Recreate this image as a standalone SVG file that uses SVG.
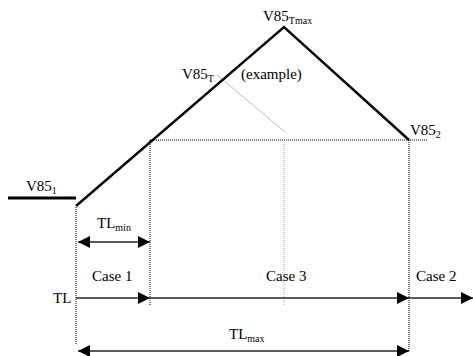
<svg xmlns="http://www.w3.org/2000/svg" width="473" height="356" viewBox="0 0 473 356">
<defs>
<style>
text{font-family:'Liberation Serif',serif;font-size:15px;fill:#000}
.sub{font-size:10px}
.main{stroke:#000;stroke-width:2.4;fill:none}
.dot{stroke:#000;stroke-width:1;stroke-dasharray:1 1;fill:none}
.lite{stroke:#aaa;stroke-width:1;stroke-dasharray:1 1;fill:none}
.ax{stroke:#222;stroke-width:1.3;fill:none}
</style>
<marker id="ah" viewBox="0 0 12 12" refX="12" refY="6" markerWidth="12" markerHeight="12" markerUnits="userSpaceOnUse" orient="auto-start-reverse">
<path d="M0,0 L12,6 L0,12 Z" fill="#000"/>
</marker>
</defs>
<rect width="473" height="356" fill="#fff"/>
<g id="connectors">
<line class="dot" x1="150" y1="140" x2="428" y2="140"/>
<line class="dot" x1="150" y1="140" x2="150" y2="305"/>
<line class="lite" x1="284" y1="140" x2="284" y2="305"/>
<line class="dot" x1="409" y1="140" x2="409" y2="352"/>
<line class="dot" x1="76" y1="207" x2="76" y2="345"/>
<line x1="217" y1="75" x2="285" y2="132" stroke="#bbb" stroke-width="1"/>
<line x1="8" y1="198" x2="76" y2="198" stroke="#000" stroke-width="3"/>
<polyline class="main" points="76,206 284,27 409,140"/>
<line class="ax" x1="78" y1="242" x2="150" y2="242" marker-start="url(#ah)" marker-end="url(#ah)"/>
<line class="ax" x1="76" y1="298" x2="150" y2="298" marker-end="url(#ah)"/>
<line class="ax" x1="150" y1="298" x2="409" y2="298" marker-end="url(#ah)"/>
<line class="ax" x1="409" y1="298" x2="473" y2="298" marker-end="url(#ah)"/>
<line class="ax" x1="78" y1="351" x2="409" y2="351" marker-start="url(#ah)" marker-end="url(#ah)"/>
</g>
<g id="v85tmax"><text x="263" y="21">V85<tspan class="sub" dy="3">Tmax</tspan></text></g>
<g id="v85t"><text x="182" y="79">V85<tspan class="sub" dy="3">T</tspan></text></g>
<g id="example"><text x="241" y="79">(example)</text></g>
<g id="v852"><text x="410" y="135">V85<tspan class="sub" dy="3">2</tspan></text></g>
<g id="v851"><text x="26" y="191">V85<tspan class="sub" dy="3">1</tspan></text></g>
<g id="tlmin"><text x="97" y="228">TL<tspan class="sub" dy="3">min</tspan></text></g>
<g id="case1"><text x="92" y="281">Case 1</text></g>
<g id="case3"><text x="266" y="281">Case 3</text></g>
<g id="case2"><text x="416" y="281">Case 2</text></g>
<g id="tl"><text x="53" y="303">TL</text></g>
<g id="tlmax"><text x="229" y="339">TL<tspan class="sub" dy="3">max</tspan></text></g>
</svg>
